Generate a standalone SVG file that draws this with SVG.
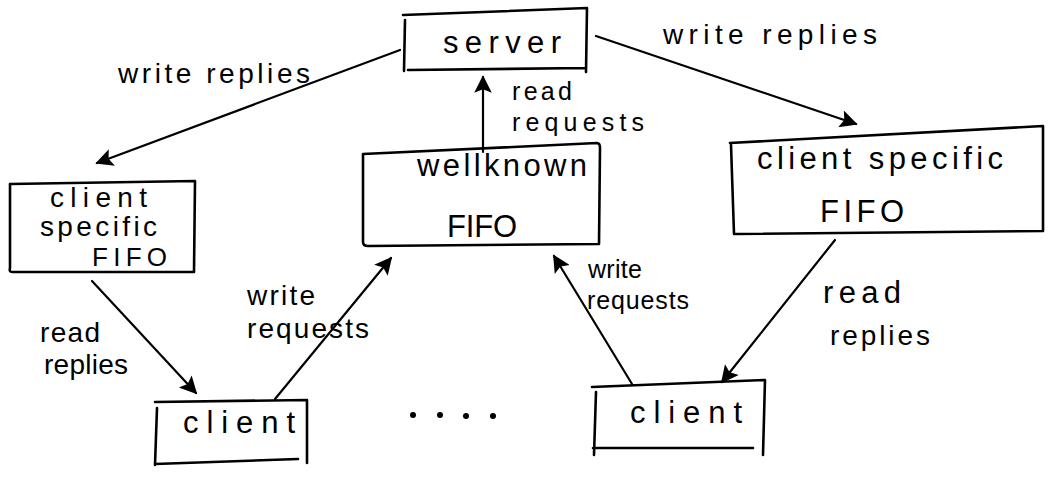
<svg xmlns="http://www.w3.org/2000/svg" width="1061" height="477" viewBox="0 0 1061 477">
  <defs>
    <marker id="head" viewBox="0 0 10 10" refX="9" refY="5" markerWidth="9" markerHeight="8" markerUnits="strokeWidth" orient="auto">
      <path d="M0,0 L10,5 L0,10 L2,5 Z" fill="#000"/>
    </marker>
  </defs>
  <style>
    .box { fill: none; stroke: #000; stroke-width: 2.6; stroke-linejoin: round; stroke-linecap: round; }
    .edge { fill: none; stroke: #000; stroke-width: 2.2; stroke-linecap: round; marker-end: url(#head); }
    text { font-family: "Liberation Sans", "DejaVu Sans", sans-serif; fill: #000; }
    .node-label { font-size: 31px; }
    .edge-label { font-size: 28px; }
    .small { font-size: 25px; }
  </style>
  <rect width="1061" height="477" fill="#fff"/>

  <!-- connectors -->
  <g id="connectors">
    <path class="edge" d="M400,50 L97,163"/>
    <path class="edge" d="M596,36 L856,124"/>
    <path class="edge" d="M483,152 L483,77"/>
    <path class="edge" d="M92,281 L196,393"/>
    <path class="edge" d="M275,399 L391,258"/>
    <path class="edge" d="M632,384 L554,256"/>
    <path class="edge" d="M835,240 L722,382"/>
  </g>

  <!-- connector labels -->
  <g id="edge-labels">
    <text class="edge-label" x="118" y="83" textLength="192" lengthAdjust="spacing">write replies</text>
    <text class="edge-label" x="663" y="44" textLength="214" lengthAdjust="spacing">write replies</text>
    <text class="edge-label small" x="512" y="100" textLength="60" lengthAdjust="spacing">read</text>
    <text class="edge-label small" x="512" y="131" textLength="132" lengthAdjust="spacing">requests</text>
    <text class="edge-label" x="40" y="342" textLength="60" lengthAdjust="spacing">read</text>
    <text class="edge-label" x="44" y="374" textLength="84" lengthAdjust="spacing">replies</text>
    <text class="edge-label" x="247" y="305" textLength="68" lengthAdjust="spacing">write</text>
    <text class="edge-label" x="247" y="338" textLength="122" lengthAdjust="spacing">requests</text>
    <text class="edge-label small" x="588" y="278" textLength="54" lengthAdjust="spacing">write</text>
    <text class="edge-label small" x="587" y="309" textLength="102" lengthAdjust="spacing">requests</text>
    <text class="edge-label" x="823" y="303" textLength="78" lengthAdjust="spacing" style="font-size:31px">read</text>
    <text class="edge-label" x="830" y="345" textLength="100" lengthAdjust="spacing">replies</text>
  </g>

  <!-- server -->
  <g id="server">
    <path class="box" d="M403,15 L587,8 L586,72 M585,68 L408,70 M405,20 L404,71"/>
    <text class="node-label" x="443" y="53" textLength="118" lengthAdjust="spacing">server</text>
  </g>

  <!-- client specific FIFO (left) -->
  <g id="fifo-left">
    <path class="box" d="M10,184 L195,181 L194,272 L12,272 Q9,272 10,268 Z"/>
    <text class="node-label" x="50" y="207" textLength="97" lengthAdjust="spacing" style="font-size:28px">client</text>
    <text class="node-label" x="40" y="236" textLength="117" lengthAdjust="spacing" style="font-size:28px">specific</text>
    <text class="node-label" x="92" y="266" textLength="75" lengthAdjust="spacing" style="font-size:26px">FIFO</text>
  </g>

  <!-- wellknown FIFO -->
  <g id="fifo-wellknown">
    <path class="box" d="M363,154 L597,143 Q600,143 600,148 L599,244 L368,246 Q363,246 363,242 Z"/>
    <text class="node-label" x="417" y="176" textLength="170" lengthAdjust="spacing">wellknown</text>
    <text class="node-label" x="447" y="237" textLength="70" lengthAdjust="spacing">FIFO</text>
  </g>

  <!-- client specific FIFO (right) -->
  <g id="fifo-right">
    <path class="box" d="M730,143 L1043,126 L1043,231 L734,234 L731,145"/>
    <text class="node-label" x="757" y="169" textLength="246" lengthAdjust="spacing">client specific</text>
    <text class="node-label" x="820" y="222" textLength="84" lengthAdjust="spacing">FIFO</text>
  </g>

  <!-- client (left) -->
  <g id="client-left">
    <path class="box" d="M155,402 L307,400 L307,463 M298,459 L155,464 M157,408 L155,465"/>
    <text class="node-label" x="183" y="433" textLength="112" lengthAdjust="spacing">client</text>
  </g>

  <!-- client (right) -->
  <g id="client-right">
    <path class="box" d="M592,387 L765,380 L763,455 M753,448 L593,448 M596,392 L594,455"/>
    <text class="node-label" x="630" y="423" textLength="112" lengthAdjust="spacing">client</text>
  </g>

  <!-- ellipsis between clients -->
  <g id="ellipsis" fill="#000">
    <circle cx="413" cy="415" r="3"/>
    <circle cx="440" cy="415" r="3"/>
    <circle cx="466" cy="416" r="3"/>
    <circle cx="493" cy="416" r="3"/>
  </g>
</svg>
